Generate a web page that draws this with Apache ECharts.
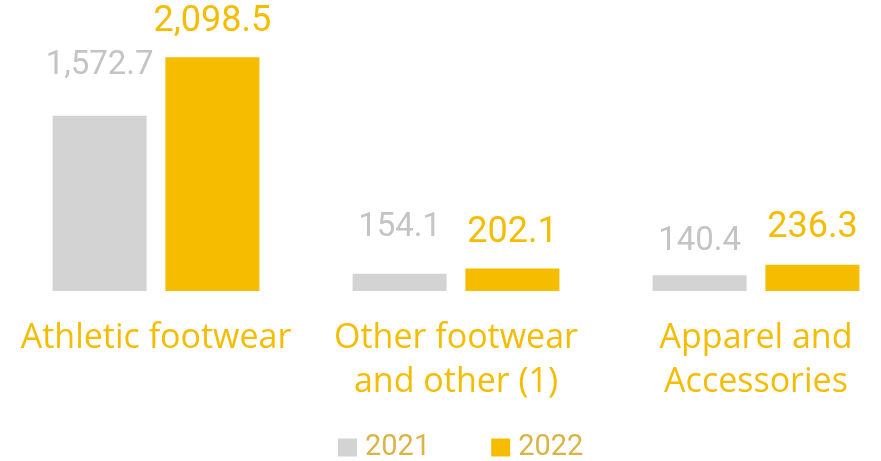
<!DOCTYPE html>
<html>
<head>
<meta charset="utf-8">
<script src="https://cdn.jsdelivr.net/npm/echarts@6/dist/echarts.min.js"></script>
<style>
  html, body { margin: 0; padding: 0; background: #ffffff; }
  #chart { width: 881px; height: 461px; }
</style>
</head>
<body>
<div id="chart"></div>
<script>
// Net sales by product category, in millions
const categories = ['Athletic footwear', 'Other footwear\nand other (1)', 'Apparel and\nAccessories'];
const years = ['2021', '2022'];
const values2021 = [1572.7, 154.1, 140.4];
const values2022 = [2098.5, 202.1, 236.3];

// extra lift of each value label above its bar
const lift2021 = [34, 30, 17];
const lift2022 = [17, 17, 19];

const GREY = '#d3d3d3';
const GREY_TEXT = '#c4c4c4';
const GOLD = '#f5bc00';
const valueFont = 'Roboto, "Noto Sans", sans-serif';
const catFont = '"Open Sans", "Noto Sans", sans-serif';

function fmt(v) {
  return v.toLocaleString('en-US', { minimumFractionDigits: 1, maximumFractionDigits: 1 });
}

function items(values, lifts) {
  return values.map((v, i) => ({ value: v, label: { distance: lifts[i] } }));
}

const chart = echarts.init(document.getElementById('chart'), null, { renderer: 'canvas' });
chart.setOption({
  animation: false,
  grid: { left: 6, width: 900, top: 57, bottom: 170, containLabel: false, outerBoundsMode: 'none' },
  legend: {
    data: years,
    left: 338,
    top: 433,
    padding: 0,
    itemWidth: 19,
    itemHeight: 18,
    itemGap: 61,
    icon: 'rect',
    textStyle: { color: '#dbb445', fontSize: 29, fontFamily: valueFont, padding: [0, 0, 0, 3] }
  },
  xAxis: {
    type: 'category',
    data: categories,
    axisLine: { show: false },
    axisTick: { show: false },
    axisLabel: {
      margin: 25,
      color: GOLD,
      fontSize: 34,
      fontFamily: catFont,
      lineHeight: 44,
      interval: 0
    }
  },
  yAxis: {
    type: 'value',
    min: 0,
    max: 2100,
    show: false,
    splitLine: { show: false }
  },
  series: [
    {
      name: '2021',
      type: 'bar',
      barWidth: 94,
      barGap: '20%',
      itemStyle: { color: GREY },
      data: items(values2021, lift2021),
      label: {
        show: true,
        position: 'top',
        color: GREY_TEXT,
        fontSize: 33,
        fontFamily: valueFont,
        formatter: p => fmt(p.value)
      }
    },
    {
      name: '2022',
      type: 'bar',
      barWidth: 94,
      itemStyle: { color: GOLD },
      data: items(values2022, lift2022),
      label: {
        show: true,
        position: 'top',
        color: GOLD,
        fontSize: 36,
        fontFamily: valueFont,
        formatter: p => fmt(p.value)
      }
    }
  ]
});
</script>
</body>
</html>
